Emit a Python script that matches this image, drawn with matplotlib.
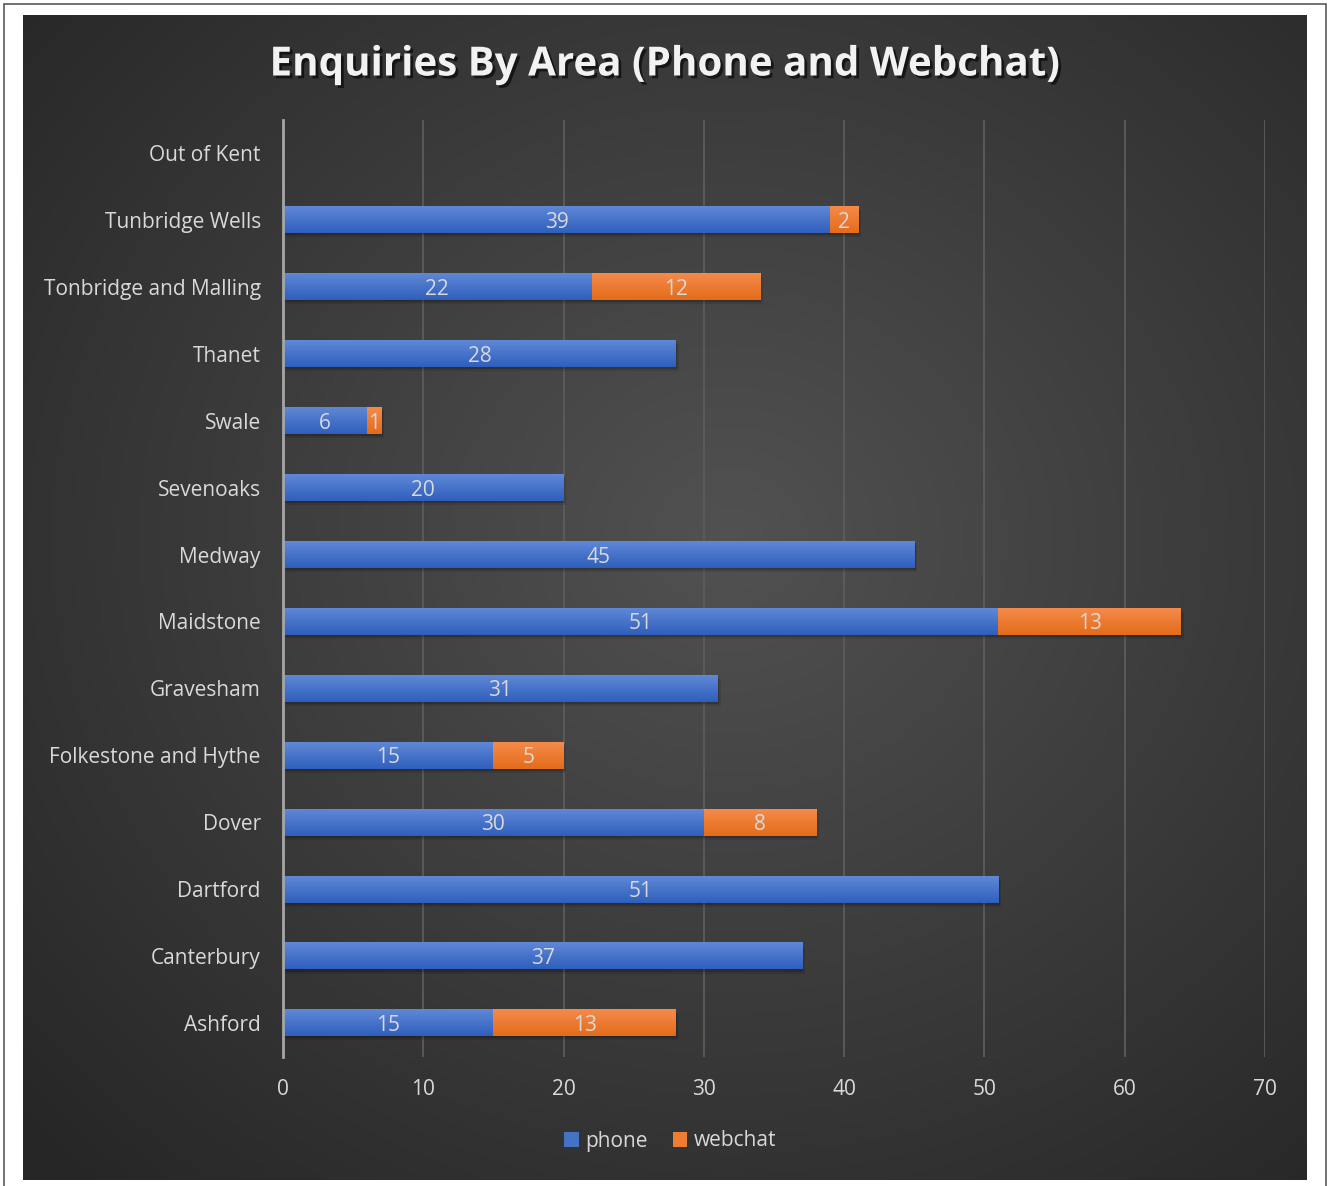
import numpy as np
import matplotlib
matplotlib.use("Agg")
import matplotlib.pyplot as plt
import matplotlib.patheffects as pe
from matplotlib.patches import Rectangle
from matplotlib.colors import LinearSegmentedColormap

plt.rcParams['font.family'] = ['Open Sans', 'DejaVu Sans']

# enquiry counts per area, listed top to bottom
areas = ["Out of Kent", "Tunbridge Wells", "Tonbridge and Malling", "Thanet",
         "Swale", "Sevenoaks", "Medway", "Maidstone", "Gravesham",
         "Folkestone and Hythe", "Dover", "Dartford", "Canterbury", "Ashford"]
phone = [0, 39, 22, 28, 6, 20, 45, 51, 31, 15, 30, 51, 37, 15]
webchat = [0, 2, 12, 0, 1, 0, 0, 13, 0, 5, 8, 0, 0, 13]
xticks = [0, 10, 20, 30, 40, 50, 60, 70]

W, H = 1330, 1186
fig = plt.figure(figsize=(W / 100, H / 100), dpi=100)
fig.patch.set_facecolor("white")

# outer frame
fig.add_artist(Rectangle((4 / W, -0.01), (1326 - 4) / W, 1 - 4 / H + 0.01,
                         transform=fig.transFigure, fill=False,
                         edgecolor="#5a5a5a", lw=1.2))

# dark chart area with a soft radial gradient
bg = fig.add_axes([23 / W, 6 / H, 1284 / W, 1165 / H])
bg.set_axis_off()
yy, xx = np.mgrid[0:1:400j, 0:1:440j]
r = np.sqrt(((xx - 0.55) / 0.75) ** 2 + ((yy - 0.45) / 0.75) ** 2)
shade = 0.32 - 0.17 * np.clip(r, 0, 1)
bg.imshow(np.dstack([shade] * 3), extent=(0, 1, 0, 1), aspect="auto",
          interpolation="bilinear")
bg.set_xlim(0, 1)
bg.set_ylim(0, 1)

ax = fig.add_axes([283 / W, 1 - 1056.5 / H, (1265 - 283) / W, (1056.5 - 119.5) / H])
ax.patch.set_alpha(0)

blue_cm = LinearSegmentedColormap.from_list("b", ["#5f88d6", "#2f5fbd"])
orange_cm = LinearSegmentedColormap.from_list("o", ["#f48b4a", "#e46c1a"])
grad = np.linspace(0, 1, 64).reshape(-1, 1)

y = np.arange(len(areas))
bh = 0.4


def grad_bar(left, width, yc, cmap):
    if width <= 0:
        return
    top, bot = yc - bh / 2, yc + bh / 2
    # soft drop shadow
    for k, a in [(0.1, 0.18), (0.2, 0.1)]:
        ax.add_patch(Rectangle((left + k, top + k * 0.3), width, bh,
                               facecolor="black", alpha=a, lw=0, zorder=2))
    ax.imshow(grad, extent=(left, left + width, bot, top), cmap=cmap,
              aspect="auto", origin="upper", zorder=3, interpolation="bilinear")


for i in range(len(areas)):
    grad_bar(0, phone[i], y[i], blue_cm)
    grad_bar(phone[i], webchat[i], y[i], orange_cm)
    if phone[i] > 0:
        ax.text(phone[i] / 2, y[i], str(phone[i]), ha="center",
                va="center_baseline", color="#d9d9d9", fontsize=15, zorder=5)
    if webchat[i] > 0:
        ax.text(phone[i] + webchat[i] / 2, y[i], str(webchat[i]), ha="center",
                va="center_baseline", color="#d9d9d9", fontsize=15, zorder=5)

# legend proxies
ax.barh([0], [0], color="#4472c4", label="phone")
ax.barh([0], [0], color="#ed7d31", label="webchat")

ax.set_xlim(0, 70)
ax.set_ylim(len(areas) - 0.5, -0.5)
ax.set_xticks(xticks)
ax.set_yticks(y)
ax.set_yticklabels(areas)
ax.tick_params(axis="both", length=0, colors="#d9d9d9", labelsize=15)
ax.tick_params(axis="x", pad=16)
ax.tick_params(axis="y", pad=16)
ax.grid(axis="x", color="#5c5c5c", lw=1.3, zorder=0)
ax.set_axisbelow(True)
for s in ["top", "right", "bottom"]:
    ax.spines[s].set_visible(False)
ax.spines["left"].set_color("#a6a6a6")
ax.spines["left"].set_linewidth(2)
ax.spines["left"].set_zorder(6)

fig.text(664 / W, 1 - 65 / H, "Enquiries By Area (Phone and Webchat)",
         ha="center", va="center", color="#f2f2f2", fontsize=29,
         fontweight="bold",
         path_effects=[pe.SimplePatchShadow(offset=(2, -2), shadow_rgbFace="black",
                                            alpha=0.6), pe.Normal()])

leg = fig.legend(loc="center", bbox_to_anchor=(670 / W, 1 - 1141 / H), ncol=2,
                 frameon=False, fontsize=15, handlelength=0.7, handleheight=0.7,
                 handletextpad=0.3, columnspacing=1.2, labelcolor="#d9d9d9")

fig.savefig("out.png", dpi=100, facecolor="white")
